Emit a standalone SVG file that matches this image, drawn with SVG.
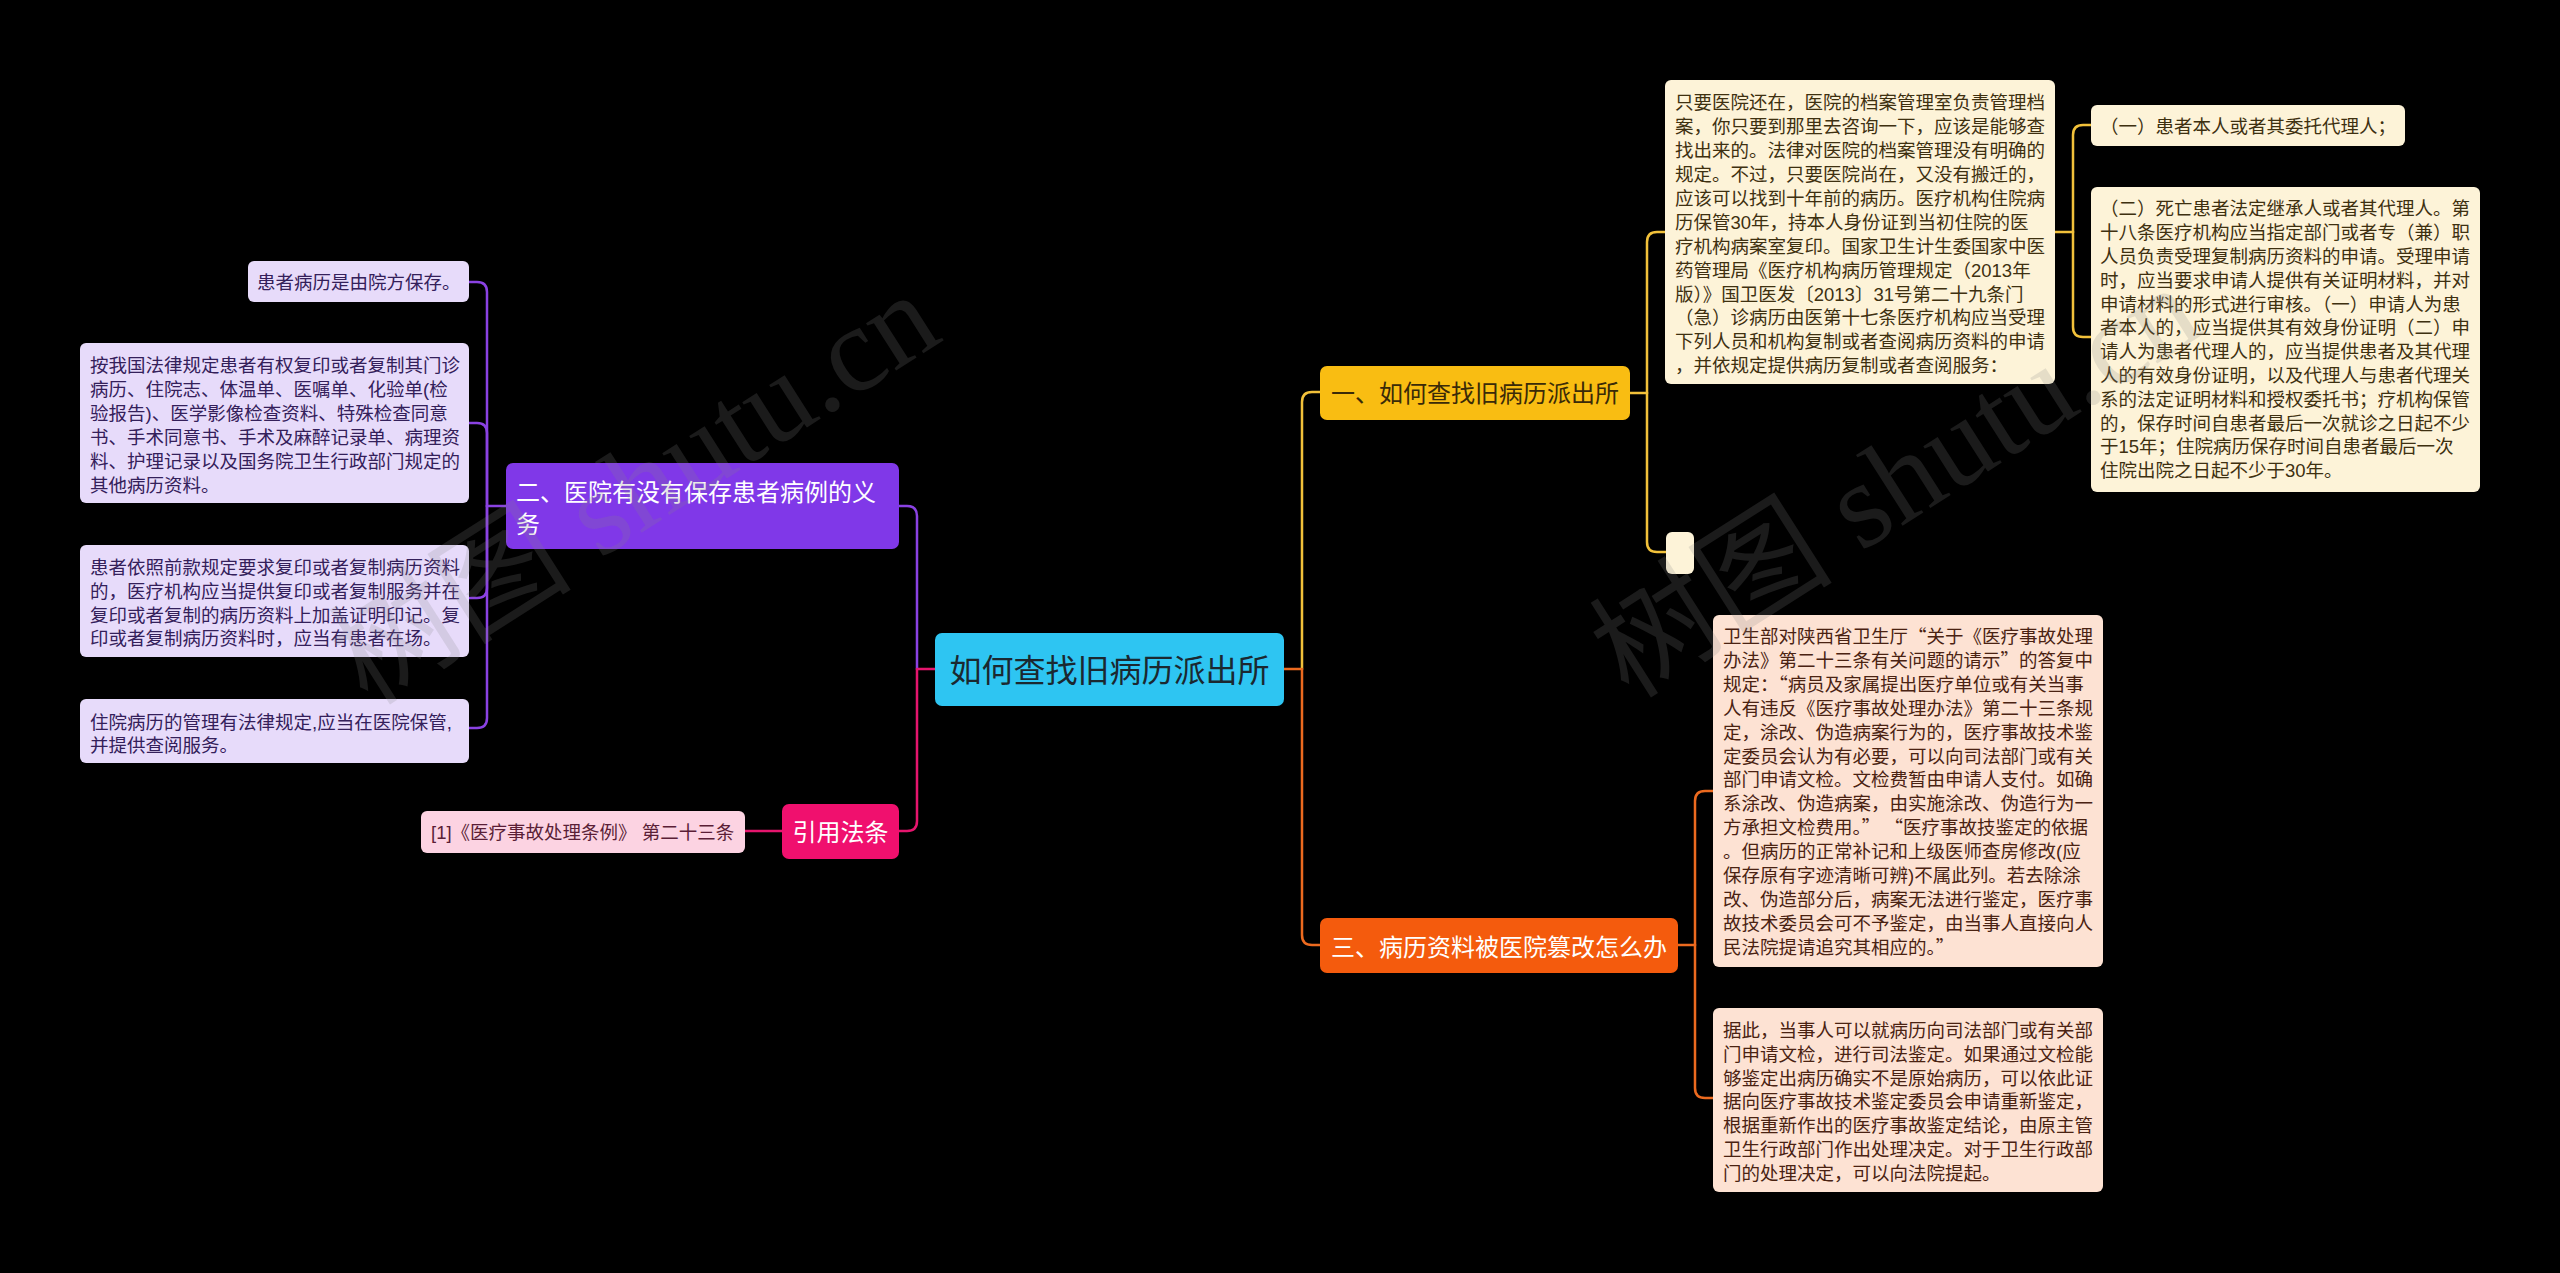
<svg xmlns="http://www.w3.org/2000/svg" width="2560" height="1273" viewBox="0 0 2560 1273">
<style>
text{font-family:"Liberation Sans","Noto Sans CJK SC",sans-serif;}
.q{font-family:"Noto Sans CJK SC",sans-serif;}
.leaf{font-size:18.5px;}
.c-cream{fill:#fdf3d8;}
.c-peach{fill:#fde2d3;}
.c-lav{fill:#e7dbfa;}
.c-pink{fill:#fcd3e2;}
.t-cream{fill:#3e3010;}
.t-peach{fill:#4a2212;}
.t-lav{fill:#34205a;}
.t-pink{fill:#5a1e36;}
.branch{font-size:24px;}
.conn{fill:none;stroke-width:2.5;stroke-linecap:round;}
.wm{font-family:"Liberation Serif","Noto Sans CJK SC",serif;font-size:122px;fill:#888;fill-opacity:0.2;}
</style>
<rect x="0" y="0" width="2560" height="1273" fill="#000"/>
<g id="connectors">
<path class="conn" stroke="#e5156d" d="M935,669 H917"/>
<path class="conn" stroke="#8a42e2" d="M917,669 V516 Q917,506 907,506 H899"/>
<path class="conn" stroke="#e5156d" d="M917,669 V821 Q917,831 907,831 H899"/>
<path class="conn" stroke="#e5156d" d="M782,831 H745"/>
<path class="conn" stroke="#8a42e2" d="M506,506 H487"/>
<path class="conn" stroke="#8a42e2" d="M487,506 V292 Q487,282 477,282 H469"/>
<path class="conn" stroke="#8a42e2" d="M487,506 V433 Q487,423 477,423 H469"/>
<path class="conn" stroke="#8a42e2" d="M487,506 V588 Q487,598 477,598 H469"/>
<path class="conn" stroke="#8a42e2" d="M487,506 V718 Q487,728 477,728 H469"/>
<path class="conn" stroke="#ec6a1f" d="M1284,669 H1302"/>
<path class="conn" stroke="#f2c13a" d="M1302,669 V402 Q1302,392 1312,392 H1320"/>
<path class="conn" stroke="#ec6a1f" d="M1302,669 V935 Q1302,945 1312,945 H1320"/>
<path class="conn" stroke="#f2c13a" d="M1630,393 H1647"/>
<path class="conn" stroke="#f2c13a" d="M1647,393 V242 Q1647,232 1657,232 H1665"/>
<path class="conn" stroke="#f2c13a" d="M1647,393 V542 Q1647,552 1657,552 H1666"/>
<path class="conn" stroke="#f2c13a" d="M2055,232 H2073"/>
<path class="conn" stroke="#f2c13a" d="M2073,232 V135 Q2073,125 2083,125 H2091"/>
<path class="conn" stroke="#f2c13a" d="M2073,232 V327 Q2073,337 2083,337 H2091"/>
<path class="conn" stroke="#ec6a1f" d="M1678,945 H1695"/>
<path class="conn" stroke="#ec6a1f" d="M1695,945 V801 Q1695,791 1705,791 H1713"/>
<path class="conn" stroke="#ec6a1f" d="M1695,945 V1088 Q1695,1098 1705,1098 H1713"/>
</g>
<g id="root">
<rect x="935" y="633" width="349" height="73" rx="7" fill="#2ec5f2"/>
<text x="1109.5" y="682" font-size="32" text-anchor="middle" fill="#1b2830">如何查找旧病历派出所</text>
</g>
<g id="branch-2">
<rect x="506" y="463" width="393" height="86" rx="7" fill="#8038e8"/>
<text class="branch" fill="#fff"><tspan x="516" y="501">二、医院有没有保存患者病例的义</tspan><tspan x="516" y="532.5">务</tspan></text>
</g>
<g id="branch-cite">
<rect x="782" y="804" width="117" height="55" rx="7" fill="#f0106e"/>
<text class="branch" x="840.5" y="840.5" text-anchor="middle" fill="#fff">引用法条</text>
</g>
<g id="leaf-cite">
<rect class="c-pink" x="421" y="811" width="324" height="42" rx="6"/>
<text class="leaf t-pink" x="431" y="838.5">[1]《医疗事故处理条例》 第二十三条</text>
</g>
<g id="leaf-2a">
<rect class="c-lav" x="248" y="261" width="221" height="41" rx="6"/>
<text class="leaf t-lav" x="257" y="289">患者病历是由院方保存。</text>
</g>
<g id="leaf-2b">
<rect class="c-lav" x="80" y="343" width="389" height="160" rx="6"/>
<text class="leaf t-lav"><tspan x="90" y="372">按我国法律规定患者有权复印或者复制其门诊</tspan><tspan x="90" y="396">病历、住院志、体温单、医嘱单、化验单(检</tspan><tspan x="90" y="420">验报告)、医学影像检查资料、特殊检查同意</tspan><tspan x="90" y="444">书、手术同意书、手术及麻醉记录单、病理资</tspan><tspan x="90" y="468">料、护理记录以及国务院卫生行政部门规定的</tspan><tspan x="90" y="492">其他病历资料。</tspan></text>
</g>
<g id="leaf-2c">
<rect class="c-lav" x="80" y="545" width="389" height="112" rx="6"/>
<text class="leaf t-lav"><tspan x="90" y="573.7">患者依照前款规定要求复印或者复制病历资料</tspan><tspan x="90" y="597.6">的，医疗机构应当提供复印或者复制服务并在</tspan><tspan x="90" y="621.5">复印或者复制的病历资料上加盖证明印记。复</tspan><tspan x="90" y="645.4">印或者复制病历资料时，应当有患者在场。</tspan></text>
</g>
<g id="leaf-2d">
<rect class="c-lav" x="80" y="699" width="389" height="64" rx="6"/>
<text class="leaf t-lav"><tspan x="90" y="728.7">住院病历的管理有法律规定,应当在医院保管,</tspan><tspan x="90" y="752.3">并提供查阅服务。</tspan></text>
</g>
<g id="branch-1">
<rect x="1320" y="366" width="310" height="54" rx="7" fill="#f9bd12"/>
<text class="branch" x="1475" y="401.5" text-anchor="middle" fill="#3a2a08">一、如何查找旧病历派出所</text>
</g>
<g id="leaf-1a">
<rect class="c-cream" x="1665" y="80" width="390" height="304" rx="6"/>
<text class="leaf t-cream"><tspan x="1675" y="109.3">只要医院还在，医院的档案管理室负责管理档</tspan><tspan x="1675" y="133.2">案，你只要到那里去咨询一下，应该是能够查</tspan><tspan x="1675" y="157.1">找出来的。法律对医院的档案管理没有明确的</tspan><tspan x="1675" y="181">规定。不过，只要医院尚在，又没有搬迁的，</tspan><tspan x="1675" y="204.9">应该可以找到十年前的病历。医疗机构住院病</tspan><tspan x="1675" y="228.8">历保管30年，持本人身份证到当初住院的医</tspan><tspan x="1675" y="252.7">疗机构病案室复印。国家卫生计生委国家中医</tspan><tspan x="1675" y="276.6">药管理局《医疗机构病历管理规定（2013年</tspan><tspan x="1675" y="300.5">版）》国卫医发〔2013〕31号第二十九条门</tspan><tspan x="1675" y="324.4">（急）诊病历由医第十七条医疗机构应当受理</tspan><tspan x="1675" y="348.3">下列人员和机构复制或者查阅病历资料的申请</tspan><tspan x="1675" y="372.2">，并依规定提供病历复制或者查阅服务：</tspan></text>
</g>
<g id="leaf-1a-1">
<rect class="c-cream" x="2091" y="105" width="314" height="41" rx="6"/>
<text class="leaf t-cream" x="2100" y="133">（一）患者本人或者其委托代理人；</text>
</g>
<g id="leaf-1a-2">
<rect class="c-cream" x="2091" y="187" width="389" height="305" rx="6"/>
<text class="leaf t-cream"><tspan x="2100" y="215.3">（二）死亡患者法定继承人或者其代理人。第</tspan><tspan x="2100" y="239.1">十八条医疗机构应当指定部门或者专（兼）职</tspan><tspan x="2100" y="262.9">人员负责受理复制病历资料的申请。受理申请</tspan><tspan x="2100" y="286.7">时，应当要求申请人提供有关证明材料，并对</tspan><tspan x="2100" y="310.5">申请材料的形式进行审核。（一）申请人为患</tspan><tspan x="2100" y="334.3">者本人的，应当提供其有效身份证明（二）申</tspan><tspan x="2100" y="358.1">请人为患者代理人的，应当提供患者及其代理</tspan><tspan x="2100" y="381.9">人的有效身份证明，以及代理人与患者代理关</tspan><tspan x="2100" y="405.7">系的法定证明材料和授权委托书；疗机构保管</tspan><tspan x="2100" y="429.5">的，保存时间自患者最后一次就诊之日起不少</tspan><tspan x="2100" y="453.3">于15年；住院病历保存时间自患者最后一次</tspan><tspan x="2100" y="477.1">住院出院之日起不少于30年。</tspan></text>
</g>
<g id="leaf-1b">
<rect class="c-cream" x="1666" y="532" width="28" height="42" rx="6"/>
</g>
<g id="branch-3">
<rect x="1320" y="918" width="358" height="55" rx="7" fill="#f45b0d"/>
<text class="branch" x="1499" y="955.5" text-anchor="middle" fill="#fff">三、病历资料被医院篡改怎么办</text>
</g>
<g id="leaf-3a">
<rect class="c-peach" x="1713" y="615" width="390" height="352" rx="6"/>
<text class="leaf t-peach"><tspan x="1723" y="643">卫生部对陕西省卫生厅<tspan class="q">“</tspan>关于《医疗事故处理</tspan><tspan x="1723" y="666.9">办法》第二十三条有关问题的请示<tspan class="q">”</tspan>的答复中</tspan><tspan x="1723" y="690.8">规定：<tspan class="q">“</tspan>病员及家属提出医疗单位或有关当事</tspan><tspan x="1723" y="714.7">人有违反《医疗事故处理办法》第二十三条规</tspan><tspan x="1723" y="738.6">定，涂改、伪造病案行为的，医疗事故技术鉴</tspan><tspan x="1723" y="762.5">定委员会认为有必要，可以向司法部门或有关</tspan><tspan x="1723" y="786.4">部门申请文检。文检费暂由申请人支付。如确</tspan><tspan x="1723" y="810.3">系涂改、伪造病案，由实施涂改、伪造行为一</tspan><tspan x="1723" y="834.2">方承担文检费用。<tspan class="q">” “</tspan>医疗事故技鉴定的依据</tspan><tspan x="1723" y="858.1">。但病历的正常补记和上级医师查房修改(应</tspan><tspan x="1723" y="882">保存原有字迹清晰可辨)不属此列。若去除涂</tspan><tspan x="1723" y="905.9">改、伪造部分后，病案无法进行鉴定，医疗事</tspan><tspan x="1723" y="929.8">故技术委员会可不予鉴定，由当事人直接向人</tspan><tspan x="1723" y="953.7">民法院提请追究其相应的。<tspan class="q">”</tspan></tspan></text>
</g>
<g id="leaf-3b">
<rect class="c-peach" x="1713" y="1008" width="390" height="184" rx="6"/>
<text class="leaf t-peach"><tspan x="1723" y="1037">据此，当事人可以就病历向司法部门或有关部</tspan><tspan x="1723" y="1060.8">门申请文检，进行司法鉴定。如果通过文检能</tspan><tspan x="1723" y="1084.6">够鉴定出病历确实不是原始病历，可以依此证</tspan><tspan x="1723" y="1108.4">据向医疗事故技术鉴定委员会申请重新鉴定，</tspan><tspan x="1723" y="1132.2">根据重新作出的医疗事故鉴定结论，由原主管</tspan><tspan x="1723" y="1156">卫生行政部门作出处理决定。对于卫生行政部</tspan><tspan x="1723" y="1179.8">门的处理决定，可以向法院提起。</tspan></text>
</g>
<g id="watermark">
<text class="wm" x="368" y="707" transform="rotate(-32.5 368 707)">树图 shutu.cn</text>
<text class="wm" x="1629" y="700" transform="rotate(-32.5 1629 700)">树图 shutu.cn</text>
</g>
</svg>
